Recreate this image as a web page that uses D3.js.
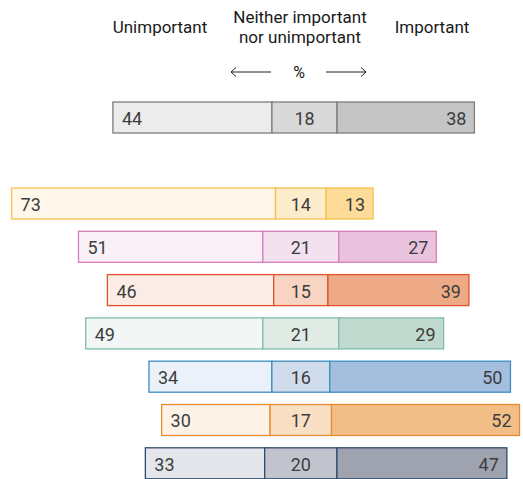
<!DOCTYPE html>
<html>
<head>
<meta charset="utf-8">
<script src="https://cdn.jsdelivr.net/npm/d3@7"></script>
<style>
  body { margin: 0; background: #fff; }
  text { font-family: Roboto, "Noto Sans", sans-serif; }
</style>
</head>
<body>
<div id="chart"></div>
<script>
// legend bar (overall) values
var legendValues = [44, 18, 38]

// per-row shares: unimportant, neither, important
var unimportant = [73, 51, 46, 49, 34, 30, 33]
var neither = [14, 21, 15, 21, 16, 17, 20]
var important = [13, 27, 39, 29, 50, 52, 47]

var headers = ['Unimportant', 'Neither important', 'nor unimportant', 'Important']

// colour sets: [light, mid, dark, stroke]
var legendColors = ['#ececec', '#d9d9d9', '#c5c5c5', '#7d7d7d']
var rowColors = [
  ['#fff7e9', '#fdeccc', '#fddb98', '#f6c14a'],
  ['#f9f1f7', '#f4e1f0', '#e9c2dd', '#d77fbb'],
  ['#fbede6', '#f8d4c3', '#eeaa86', '#e0512c'],
  ['#f2f6f4', '#e0ebe6', '#c1dad0', '#80bcaa'],
  ['#ebf1f9', '#d0dcec', '#a4bedd', '#3b8ec1'],
  ['#fdf2e7', '#f9dfc4', '#f2be87', '#e98a2f'],
  ['#e5e6eb', '#c1c4cd', '#9ea3af', '#2f4b6b']
]

var width = 523
var height = 479

var svg = d3
  .select('#chart')
  .append('svg')
  .attr('width', width)
  .attr('height', height)

// percent -> pixels
var x = d3.scaleLinear().domain([0, 100]).range([0, 361.5])

var rowIdx = d3.range(unimportant.length)
var y = d3
  .scaleBand()
  .domain(rowIdx)
  .range([188, 188 + 43.3 * (rowIdx.length - 1) + 31])
  .paddingInner(0.284)
  .paddingOuter(0)

var barH = y.bandwidth()

// draws one stacked bar with its neutral segment centered on cx
function drawBar(vals, colors, cx, top) {
  var g = svg.append('g')
  var start = cx - x(vals[0] + vals[1] / 2)
  var x0 = start
  var segs = vals.map((v, i) => {
    var s = { v: v, i: i, x: x0, w: x(v) }
    x0 += x(v)
    return s
  })

  g.selectAll('rect')
    .data(segs)
    .enter()
    .append('rect')
    .attr('x', d => d.x)
    .attr('y', top)
    .attr('width', d => d.w)
    .attr('height', barH)
    .attr('fill', d => colors[d.i])
    .attr('stroke', colors[3])
    .attr('stroke-width', 1.3)

  g.selectAll('text')
    .data(segs)
    .enter()
    .append('text')
    .attr('x', d => {
      if (d.i === 0) return d.x + 9
      if (d.i === 1) return d.x + d.w / 2
      return d.x + d.w - 8
    })
    .attr('y', top + barH / 2 + 1)
    .attr('text-anchor', d => (d.i === 0 ? 'start' : d.i === 1 ? 'middle' : 'end'))
    .attr('dominant-baseline', 'central')
    .style('font-size', '18px')
    .style('fill', '#3d3d3d')
    .text(d => d.v)
}

// legend bar
drawBar(legendValues, legendColors, 304.5, 102)

// rows
rowIdx.forEach(i => {
  drawBar([unimportant[i], neither[i], important[i]], rowColors[i], 300.8, y(i))
})

// header labels
var head = svg.append('g').style('font-size', '17px').style('fill', '#1a1a1a')
head.append('text').attr('x', 160).attr('y', 27).attr('text-anchor', 'middle')
  .attr('dominant-baseline', 'central').text(headers[0])
head.append('text').attr('x', 300).attr('y', 17).attr('text-anchor', 'middle')
  .attr('dominant-baseline', 'central').text(headers[1])
head.append('text').attr('x', 300).attr('y', 37).attr('text-anchor', 'middle')
  .attr('dominant-baseline', 'central').text(headers[2])
head.append('text').attr('x', 432).attr('y', 27).attr('text-anchor', 'middle')
  .attr('dominant-baseline', 'central').text(headers[3])

// arrows and %
head.append('text').attr('x', 299).attr('y', 72).attr('text-anchor', 'middle')
  .attr('dominant-baseline', 'central').style('font-size', '16px').text('%')

var arrows = svg.append('g')
  .attr('fill', 'none')
  .attr('stroke', '#222')
  .attr('stroke-width', 1)
arrows.append('path').attr('d', 'M231,72H271M236,67.5L231,72L236,76.5')
arrows.append('path').attr('d', 'M326,72H366M361,67.5L366,72L361,76.5')
</script>
</body>
</html>
